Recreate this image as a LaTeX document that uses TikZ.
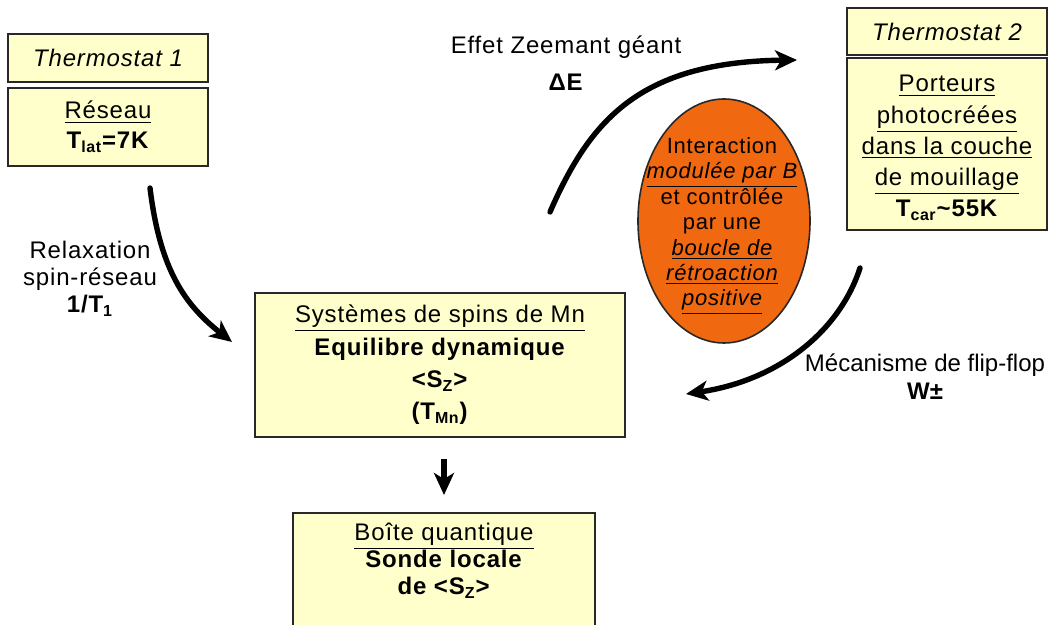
\documentclass[tikz,border=0pt]{standalone}
\usepackage{fontspec}
\setmainfont{Liberation Sans}[LetterSpace=3.5]
\newfontfamily\plainsans{Liberation Sans}
\usetikzlibrary{arrows.meta,shapes.geometric}
\definecolor{boxfill}{RGB}{255,255,204}
\definecolor{ellfill}{RGB}{240,104,16}
\definecolor{edge}{RGB}{40,40,40}
\tikzset{
  box/.style={draw=edge, line width=1pt, fill=boxfill, align=center, inner sep=0pt},
  txt/.style={align=center, inner sep=0pt},
  bighead/.style={-{Stealth[length=11pt,width=10pt,inset=3pt]}},
  bigarrow/.style={line width=2.7pt, line cap=round, bighead},
}
\newcommand{\fs}[2]{\fontsize{#1}{#2}\selectfont}
\begin{document}
\begin{tikzpicture}[x=0.5pt,y=-0.5pt]
\useasboundingbox (0,0) rectangle (1049,625);
\begin{scope}
\clip (0,0) rectangle (1049,625);
% Thermostat 1
\node[box, minimum width=100pt, minimum height=24pt, font=\fs{12}{15}\itshape] (th1) at (108,58) {Thermostat 1};
\node[box, minimum width=100pt, minimum height=39pt, font=\fs{12}{15}] (res) at (108,127)
  {\underline{Réseau}\\ \textbf{T\textsubscript{lat}=7K}};
% Thermostat 2
\node[box, minimum width=100pt, minimum height=23.5pt, font=\fs{12}{15}\itshape] (th2) at (947,31.5) {Thermostat 2};
\node[box, minimum width=100pt, minimum height=86pt] (port) at (947,144) {};
\node[txt, font=\fs{12}{15.6}] (portt) at (947,148)
  {\underline{Porteurs}\\ \underline{photocréées}\\ \underline{dans la couche}\\ \underline{de mouillage}\\ \textbf{T\textsubscript{car}\textasciitilde55K}};
% main box
\node[box, minimum width=185pt, minimum height=72pt, font=\fs{12}{16.2}] (mn) at (440,365)
  {\underline{Systèmes de spins de Mn}\\ \textbf{Equilibre dynamique}\\ \textbf{<S\textsubscript{Z}>}\\ \textbf{(T\textsubscript{Mn})}};
% bottom box
\node[box, minimum width=151pt, minimum height=69pt, anchor=north] (qd) at (444,512) {};
\node[txt, font=\fs{12}{13.4}, anchor=north] (qdt) at (444,523)
  {\underline{Boîte quantique}\\ \textbf{Sonde locale}\\ \textbf{de <S\textsubscript{Z}>}};
% ellipse
\node[ellipse, draw=edge, line width=0.8pt, fill=ellfill, minimum width=86pt, minimum height=122pt, inner sep=0pt] (ell) at (724,221) {};
\node[txt, font=\fs{11}{12.7}] (ellt) at (722,226)
  {Interaction\\ \textit{\underline{modulée par B}}\\ et contrôlée\\ par une\\ \textit{\underline{boucle de}}\\ \textit{\underline{rétroaction}}\\ \textit{\underline{positive}}};
% labels
\node[txt, font=\fs{12}{13.5}] (lrel) at (90,279) {Relaxation\\ spin-réseau\\ \textbf{1/T\textsubscript{1}}};
\node[txt, font=\fs{12}{18.5}] (lzee) at (566,63) {Effet Zeemant géant\\ \textbf{ΔE}};
\node[txt, font=\fs{12}{14}\plainsans] (lff) at (925,377) {Mécanisme de flip-flop\\ \textbf{W±}};
% arrow coordinates
\coordinate (a1s) at (150,188);
\coordinate (a1e) at (232,342);
\coordinate (a2s) at (550,212);
\coordinate (a2e) at (797,60);
\coordinate (a3s) at (860,268);
\coordinate (a3e) at (686,394);
\coordinate (a4s) at (mn.south -| qd.north);
\draw[bigarrow] (a1s) .. controls (160,270) and (185,305) .. (a1e);
\draw[bigarrow] (a2s) .. controls (590,120) and (640,62) .. (a2e);
\draw[bigarrow] (a3s) .. controls (840,330) and (780,380) .. (a3e);
\draw[line width=2.7pt, bighead] ([yshift=-10.5pt]a4s) -- ([yshift=8.5pt]qd.north);
\end{scope}
\end{tikzpicture}
\end{document}
